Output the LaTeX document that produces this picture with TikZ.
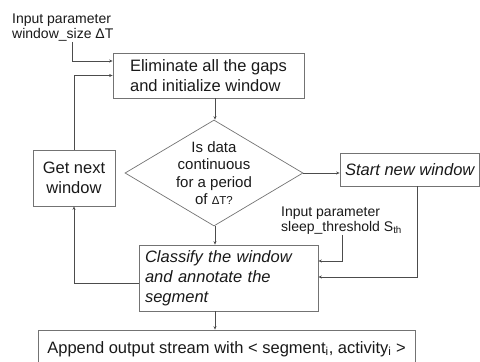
\documentclass[tikz,border=0pt]{standalone}
\usepackage{fontspec}
\setmainfont{Liberation Sans}
\usetikzlibrary{arrows.meta,shapes.geometric}
\tikzset{
  box/.style={draw=black!55, line width=0.7pt, rectangle, inner xsep=6pt, inner ysep=0pt,
    font=\fontsize{16.5}{20}\selectfont, text=black!90},
  arr/.style={draw=black!70, line width=0.6pt, -{Stealth[length=3.5pt,width=3pt]}},
  plain/.style={draw=black!70, line width=0.6pt},
  note/.style={font=\fontsize{14}{15.5}\selectfont, align=left, inner sep=0pt, text=black!90}
}
\begin{document}
\begin{tikzpicture}[x=1pt,y=-1pt]
\useasboundingbox (0,0) rectangle (480,362);
% input notes
\node[note, anchor=north west] (in1) at (12,13.5) {Input parameter\\window\_size ΔT};
\node[note, anchor=north west] (in2) at (281,206.5) {Input parameter\\sleep\_threshold S\textsubscript{th}};
% boxes
\node[box, align=left, minimum width=191pt, minimum height=45pt] (elim) at (208.5,75.5)
  {Eliminate all the gaps\\and initialize window};
\node[diamond, draw=black!55, line width=0.7pt, minimum width=178pt, minimum height=106pt, inner sep=0pt] (dia) at (214,173) {};
\node[font=\fontsize{15}{17.5}\selectfont, align=center, inner sep=0pt, text=black!90] (diat) at (dia.center)
  {Is data\\continuous\\for a period\\of {\fontsize{11.5}{12}\selectfont ΔT?}};
\node[box, align=center, minimum width=82pt, minimum height=56pt] (gnw) at (74,178) {Get next\\window};
\node[box, align=left, inner xsep=4pt, minimum width=139.5pt, minimum height=33pt, font=\fontsize{16.5}{20}\selectfont\itshape] (snw) at (409.75,169.5) {Start new window};
\node[box, align=left, text width=167pt, minimum height=66pt, font=\fontsize{16.5}{20}\selectfont\itshape] (cls) at (228.5,278)
  {Classify the window\\and annotate the\\segment};
\node[box, align=left, minimum width=377pt, minimum height=37.5pt] (app) at (226.5,348.75)
  {Append output stream with < segment\textsubscript{i}, activity\textsubscript{i} >};
% helper coordinates
\coordinate (k1) at (72,61);
\coordinate (k2) at (417,277);
\coordinate (k3) at (342,261);
\coordinate (k4) at (74,283);
\coordinate (kx) at (215,0);
% connectors
\draw[arr] (in1.south -| k1) -- (k1) -- (k1 -| elim.west);
\draw[arr] (gnw.north) |- (elim.west);
\draw[arr] (elim.south -| kx) -- (dia.north -| kx);
\draw[arr] (dia.east) -- (dia.east -| snw.west);
\draw[arr] (snw.south -| k2) -- (k2) -- (k2 -| cls.east);
\draw[arr] (in2.south -| k3) -- (k3) -- (k3 -| cls.east);
\draw[arr] (dia.south -| kx) -- (cls.north -| kx);
\draw[arr] (k4 -| cls.west) -- (k4) -- (gnw.south);
\draw[arr] (cls.south -| kx) -- (app.north -| kx);
\end{tikzpicture}
\end{document}
